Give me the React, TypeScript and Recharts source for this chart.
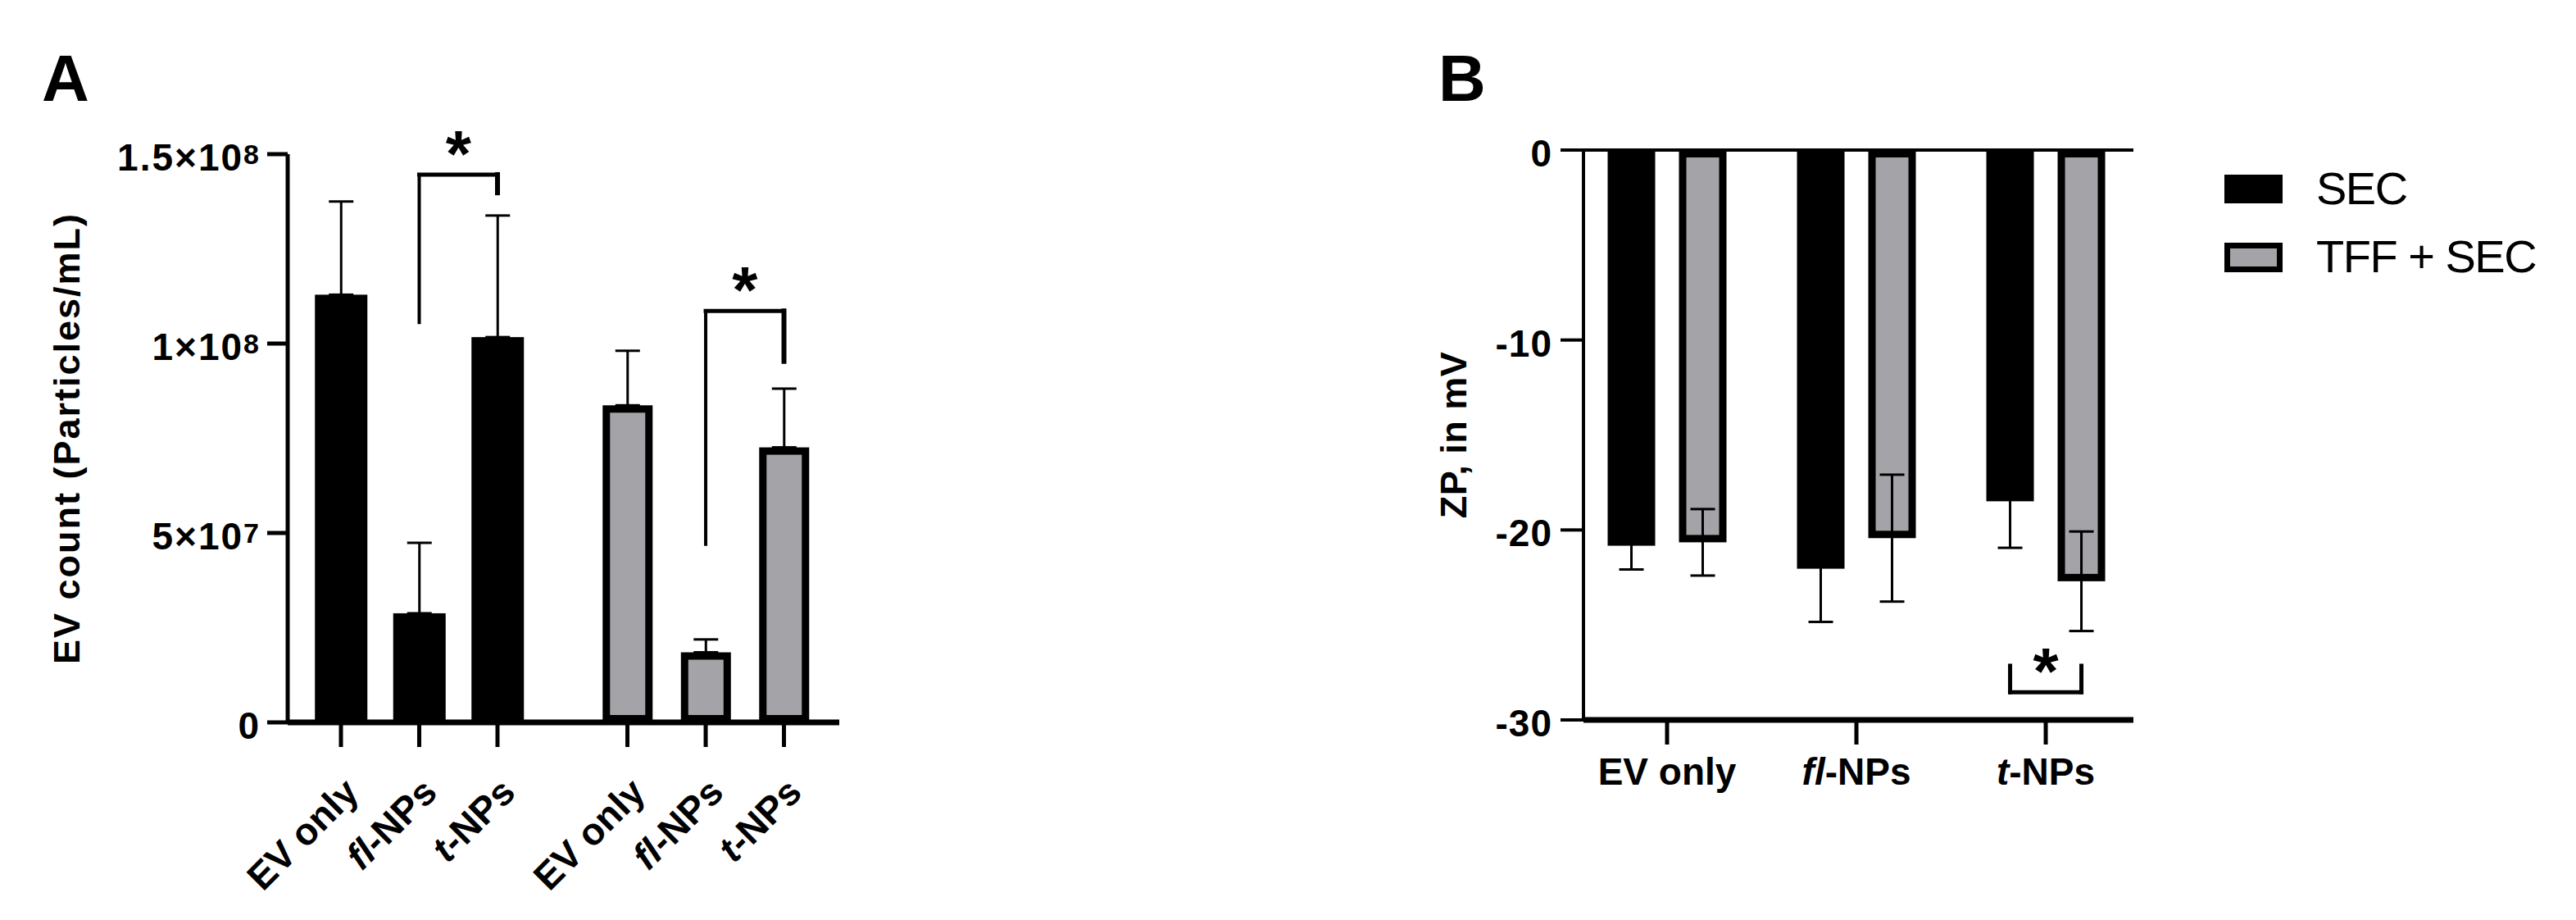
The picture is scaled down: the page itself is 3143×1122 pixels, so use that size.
import { BarChart, Bar, XAxis, YAxis, ErrorBar, ReferenceLine, ReferenceDot } from 'recharts'

const FONT = "'Liberation Sans', Arial, Helvetica, sans-serif"
const GRAY = '#a4a4a8'
const BORDER = 9

// Panel A: EV count per condition (SEC then TFF + SEC)
const countLabels = ['EV only', 'fl-NPs', 't-NPs', 'EV only', 'fl-NPs', 't-NPs']
const countMethod = ['SEC', 'SEC', 'SEC', 'TFF + SEC', 'TFF + SEC', 'TFF + SEC']
const countMean = [1.129e8, 2.88e7, 1.017e8, 8.37e7, 1.85e7, 7.26e7]
const countSd = [2.46e7, 1.86e7, 3.21e7, 1.44e7, 3.4e6, 1.55e7]
const countTicks = [0, 5e7, 1e8, 1.5e8]
const countSig = [
  { a: 1, b: 2, top: 1.446e8, endA: 1.056e8, endB: 1.398e8, star: 1.537e8 },
  { a: 4, b: 5, top: 1.086e8, endA: 4.7e7, endB: 9.53e7, star: 1.178e8 },
]

// Panel B: zeta potential
const zpLabels = ['EV only', 'fl-NPs', 't-NPs']
const zpSec = [-20.83, -22.04, -18.49]
const zpSecSd = [1.25, 2.8, 2.45]
const zpTff = [-20.65, -20.43, -22.7]
const zpTffSd = [1.75, 3.34, 2.62]
const zpTicks = [0, -10, -20, -30]
const zpSig = { group: 2, bottom: -28.54, legs: -27.15, star: -26.7 }

const series = [
  { name: 'SEC', fill: '#000' },
  { name: 'TFF + SEC', fill: GRAY },
]

// second group of panel A sits a bit further right than one slot
const GROUP_GAP = 0.66
const posA = countLabels.map((_, i) => i + (i >= 3 ? GROUP_GAP : 0))

const countData = countLabels.map((label, i) => ({
  pos: posA[i],
  label,
  method: countMethod[i],
  value: countMean[i],
  err: [0, countSd[i]],
}))

const zpData = zpLabels.map((label, i) => ({
  pos: i,
  label,
  sec: zpSec[i],
  secErr: zpSecSd[i],
  tff: zpTff[i],
  tffErr: zpTffSd[i],
}))

// bar width 58 + gap 29 over a 231px slot
const PAIR_OFFSET = (58 + 29) / 2 / 231

function renderLabel(label: string) {
  const m = label.match(/^(fl|t)(-.*)$/)
  if (!m) return label
  return (
    <>
      <tspan fontStyle="italic">{m[1]}</tspan>
      <tspan>{m[2]}</tspan>
    </>
  )
}

function BarBox(props: any) {
  const { x, y, width, height, filled, inset = 0 } = props
  const top = Math.min(y, y + height)
  const h = Math.abs(height)
  if (filled) return <rect x={x} y={top} width={width} height={h} fill="#000" />
  return (
    <rect
      x={x + inset + BORDER / 2}
      y={top + BORDER / 2}
      width={width - 2 * inset - BORDER}
      height={Math.max(h - BORDER, 0)}
      fill={GRAY}
      stroke="#000"
      strokeWidth={BORDER}
    />
  )
}

function CountTick({ x, y, payload }: any) {
  const v = payload.value
  const common = { fontFamily: FONT, fontSize: 46, fontWeight: 'bold', fill: '#000', textAnchor: 'end' as const }
  if (v === 0) return <text x={x} y={y + 20} {...common}>0</text>
  const exp = Math.floor(Math.log10(v))
  const mant = +(v / 10 ** exp).toFixed(2)
  return (
    <text x={x} y={y + 20} {...common} letterSpacing={2}>
      {`${mant}×10`}
      <tspan fontSize={34} dy={-8} letterSpacing={0}>{exp}</tspan>
    </text>
  )
}

function ZpTick({ x, y, payload }: any) {
  return (
    <text x={x} y={y + 20} fontFamily={FONT} fontSize={46} fontWeight="bold" textAnchor="end" letterSpacing={1}>
      {payload.value}
    </text>
  )
}

function SlantTick({ x, y, index }: any) {
  const px = x + 24
  const py = y + 58
  return (
    <text
      x={px}
      y={py}
      transform={`rotate(-45 ${px} ${py})`}
      textAnchor="end"
      fontFamily={FONT}
      fontSize={46}
      fontWeight="bold"
    >
      {renderLabel(countLabels[index])}
    </text>
  )
}

function FlatTick({ x, y, index }: any) {
  return (
    <text x={x} y={y + 49} textAnchor="middle" fontFamily={FONT} fontSize={46} fontWeight="bold">
      {renderLabel(zpLabels[index])}
    </text>
  )
}

function AxisTitle({ viewBox, text, baseX, spacing }: any) {
  const cy = viewBox.y + viewBox.height / 2
  const x = viewBox.x + baseX
  return (
    <text
      x={x}
      y={cy}
      transform={`rotate(-90 ${x} ${cy})`}
      textAnchor="middle"
      fontFamily={FONT}
      fontSize={45}
      fontWeight="bold"
      letterSpacing={spacing}
    >
      {text}
    </text>
  )
}

function Star({ cx, cy }: any) {
  return (
    <text x={cx} y={cy + 44} textAnchor="middle" fontFamily={FONT} fontSize={80} fontWeight="bold">
      *
    </text>
  )
}

function seg(key: string, x1: number, y1: number, x2: number, y2: number, w: number) {
  return (
    <ReferenceLine
      key={key}
      segment={[{ x: x1, y: y1 }, { x: x2, y: y2 }]}
      stroke="#000"
      strokeWidth={w}
      strokeLinecap="square"
      ifOverflow="visible"
    />
  )
}

function CountChart() {
  return (
    <BarChart width={1100} height={1122} data={countData} margin={{ top: 188, right: 76, bottom: 41, left: 0 }}>
      <XAxis
        dataKey="pos"
        type="number"
        domain={[-0.6806, 6.3665]}
        ticks={posA}
        interval={0}
        height={200}
        tickSize={30}
        tickMargin={0}
        axisLine={{ stroke: '#000', strokeWidth: 7 }}
        tickLine={{ stroke: '#000', strokeWidth: 5 }}
        tick={(p: any) => <SlantTick {...p} />}
      />
      <YAxis
        type="number"
        domain={[0, 1.5e8]}
        ticks={countTicks}
        interval={0}
        width={351}
        tickSize={25}
        tickMargin={10}
        axisLine={{ stroke: '#000', strokeWidth: 5 }}
        tickLine={{ stroke: '#000', strokeWidth: 5 }}
        tick={(p: any) => <CountTick {...p} />}
        label={{ content: (p: any) => <AxisTitle viewBox={p.viewBox} text="EV count (Particles/mL)" baseX={97} spacing={2} /> }}
      />
      <Bar
        dataKey="value"
        barSize={64}
        isAnimationActive={false}
        shape={(p: any) => <BarBox {...p} filled={p.payload.method === 'SEC'} inset={1.5} />}
      >
        <ErrorBar dataKey="err" width={15} strokeWidth={3} stroke="#000" direction="y" isAnimationActive={false} />
      </Bar>
      {countSig.flatMap((s, k) => {
        const xa = posA[s.a]
        const xb = posA[s.b]
        return [
          seg(`l${k}`, xa, s.endA, xa, s.top, 4),
          seg(`t${k}`, xa, s.top, xb, s.top, 5),
          seg(`r${k}`, xb, s.top, xb, s.endB, 6),
          <ReferenceDot
            key={`s${k}`}
            x={(xa + xb) / 2}
            y={s.star}
            r={0}
            ifOverflow="visible"
            shape={(p: any) => <Star cx={p.cx} cy={p.cy} />}
          />,
        ]
      })}
    </BarChart>
  )
}

function ZpChart() {
  const xa = zpSig.group - PAIR_OFFSET
  const xb = zpSig.group + PAIR_OFFSET
  return (
    <BarChart width={1443} height={1122} data={zpData} barGap={29} margin={{ top: 183, right: 540, bottom: 124, left: 0 }}>
      <XAxis
        dataKey="pos"
        type="number"
        domain={[-0.4416, 2.463]}
        ticks={[0, 1, 2]}
        interval={0}
        height={120}
        tickSize={30}
        tickMargin={0}
        axisLine={{ stroke: '#000', strokeWidth: 7 }}
        tickLine={{ stroke: '#000', strokeWidth: 5 }}
        tick={(p: any) => <FlatTick {...p} />}
      />
      <YAxis
        type="number"
        domain={[-30, 0]}
        ticks={zpTicks}
        interval={0}
        width={232}
        tickSize={28}
        tickMargin={10}
        axisLine={{ stroke: '#000', strokeWidth: 4 }}
        tickLine={{ stroke: '#000', strokeWidth: 4 }}
        tick={(p: any) => <ZpTick {...p} />}
        label={{ content: (p: any) => <AxisTitle viewBox={p.viewBox} text="ZP, in mV" baseX={89} spacing={0.5} /> }}
      />
      <ReferenceLine y={0} stroke="#000" strokeWidth={4} />
      <Bar dataKey="sec" name={series[0].name} barSize={58} isAnimationActive={false} shape={(p: any) => <BarBox {...p} filled />}>
        <ErrorBar dataKey="secErr" width={15} strokeWidth={3} stroke="#000" direction="y" isAnimationActive={false} />
      </Bar>
      <Bar dataKey="tff" name={series[1].name} barSize={58} isAnimationActive={false} shape={(p: any) => <BarBox {...p} filled={false} />}>
        <ErrorBar dataKey="tffErr" width={15} strokeWidth={3} stroke="#000" direction="y" isAnimationActive={false} />
      </Bar>
      {seg('bl', xa, zpSig.legs, xa, zpSig.bottom, 5)}
      {seg('bb', xa, zpSig.bottom, xb, zpSig.bottom, 5)}
      {seg('br', xb, zpSig.bottom, xb, zpSig.legs, 5)}
      <ReferenceDot
        x={zpSig.group}
        y={zpSig.star}
        r={0}
        ifOverflow="visible"
        shape={(p: any) => <Star cx={p.cx} cy={p.cy} />}
      />
    </BarChart>
  )
}

export default function App() {
  return (
    <div style={{ position: 'absolute', left: 0, top: 0, width: 3143, height: 1122, background: '#fff' }}>
      <div style={{ position: 'absolute', left: 0, top: 0 }}>
        <CountChart />
      </div>
      <div style={{ position: 'absolute', left: 1700, top: 0 }}>
        <ZpChart />
      </div>
      <svg width={3143} height={1122} style={{ position: 'absolute', left: 0, top: 0, pointerEvents: 'none' }}>
        <text x={51} y={123} fontFamily={FONT} fontSize={80} fontWeight="bold">A</text>
        <text x={1755} y={123} fontFamily={FONT} fontSize={80} fontWeight="bold">B</text>
        {/* legend for panel B */}
        <rect x={2714} y={213} width={71} height={35} fill={series[0].fill} />
        <rect x={2717.5} y={299.5} width={64} height={29} fill={series[1].fill} stroke="#000" strokeWidth={7} />
        <text x={2826} y={249} fontFamily={FONT} fontSize={56} letterSpacing={-1.5}>{series[0].name}</text>
        <text x={2826} y={332} fontFamily={FONT} fontSize={56} letterSpacing={-1.5}>{series[1].name}</text>
      </svg>
    </div>
  )
}
